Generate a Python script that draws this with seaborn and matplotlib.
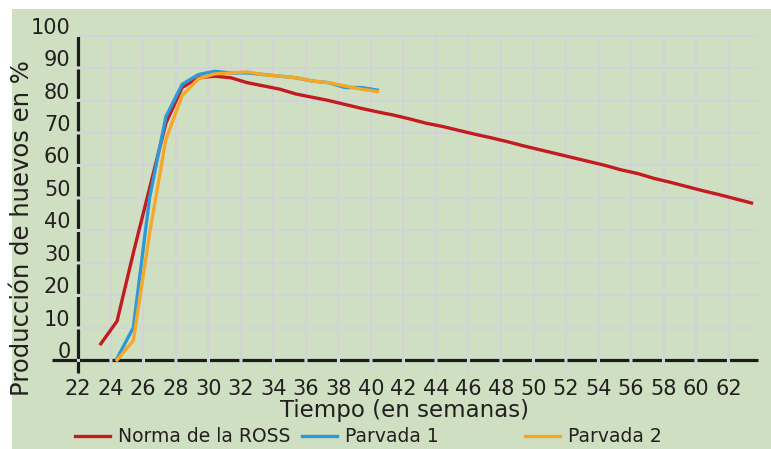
import numpy as np
import pandas as pd
import seaborn as sns
import matplotlib.pyplot as plt
from matplotlib.patches import Rectangle
from matplotlib.transforms import ScaledTranslation

# semanas de vida (los puntos caen un poco despues de cada marca del eje)
semanas_ross = np.arange(23.4, 63.5, 1.0)
semanas_parvada = np.arange(24.4, 40.5, 1.0)

# produccion de huevos en %
norma_ross = [5, 12, 33, 53, 73, 84, 87, 87.5, 87, 85.5,
              84.5, 83.5, 82, 81, 80, 78.8, 77.6, 76.5, 75.5, 74.3,
              73, 72, 70.8, 69.6, 68.5, 67.3, 66, 64.8, 63.6, 62.4,
              61.2, 60, 58.6, 57.5, 56, 54.8, 53.5, 52.2, 51, 49.7, 48.4]
parvada_1 = [0.5, 10, 50, 75, 85, 88, 89, 88.5, 88.5, 88,
             87.5, 87, 86, 85.5, 84, 84, 83.2]
parvada_2 = [0, 6, 39, 68, 81.5, 86.7, 88.2, 88.5, 88.8, 88,
             87.5, 87, 86, 85.5, 84.5, 83.5, 82.8]

series = ['Norma de la ROSS', 'Parvada 1', 'Parvada 2']
colores = ['#c41b20', '#2b9ad6', '#f5a72a']

y_ticks = list(range(0, 101, 10))
x_ticks = list(range(22, 63, 2))

df = pd.concat([
    pd.DataFrame({'semana': semanas_ross, 'valor': norma_ross, 'serie': series[0]}),
    pd.DataFrame({'semana': semanas_parvada, 'valor': parvada_1, 'serie': series[1]}),
    pd.DataFrame({'semana': semanas_parvada, 'valor': parvada_2, 'serie': series[2]}),
])

plt.rcParams['lines.scale_dashes'] = False
plt.rcParams['font.family'] = ['DejaVu Sans']
texto = '#231f20'
verde = '#cfe0c2'
rejilla = '#d5d1dc'

fig = plt.figure(figsize=(7.71, 4.49), dpi=100)
fig.patch.set_facecolor('white')
fig.patches.append(Rectangle((12 / 771, 0), 1, 1 - 9 / 449, transform=fig.transFigure,
                             facecolor=verde, edgecolor='none', zorder=-5))

ax = fig.add_axes([52 / 771, 1 - 373 / 449, 706 / 771, 339 / 449])
ax.set_zorder(2)
ax.set_facecolor('none')
ax.set_xlim(20.4, 63.8)
ax.set_ylim(-4, 100.5)

# rejilla
ax.vlines(x_ticks[1:], -3.5, 100, color=rejilla, lw=1.3, zorder=1)
ax.hlines(y_ticks[1:], 22, 63.8, color=rejilla, lw=1.3, zorder=1)

sns.lineplot(data=df, x='semana', y='valor', hue='serie', hue_order=series,
             palette=colores, linewidth=2.4, legend=False, ax=ax, zorder=3)

# ejes cruzados y "cortados" en cada linea de la rejilla
for s in ['top', 'right']:
    ax.spines[s].set_visible(False)
ax.spines['left'].set_position(('data', 22))
ax.spines['bottom'].set_position(('data', 0))
ax.spines['left'].set_linestyle((12.9, (21.2, 2.2)))
ax.spines['bottom'].set_linestyle((3.6, (21.2, 2.2)))
for s in ['left', 'bottom']:
    ax.spines[s].set_linewidth(2.3)
    ax.spines[s].set_color('#1c1c1c')
    ax.spines[s].set_capstyle('butt')
    ax.spines[s].set_zorder(2)

ax.set_xticks(x_ticks)
ax.set_yticks(y_ticks)
ax.tick_params(axis='both', length=0, labelsize=15, colors=texto)
ax.tick_params(axis='y', pad=5.5)
ax.tick_params(axis='x', pad=13.5)
subir = ScaledTranslation(0, 10 / 100, fig.dpi_scale_trans)
for lab in ax.get_yticklabels():
    lab.set_transform(lab.get_transform() + subir)

ax.set_xlabel('Tiempo (en semanas)', fontsize=16.5, color=texto)
ax.xaxis.label.set_va('center')
ax.xaxis.set_label_coords(0.5, (373 - 410) / 339)
ax.set_ylabel('Producción de huevos en %', fontsize=17.5, color=texto)
ax.yaxis.label.set_va('center')
ax.yaxis.set_label_coords((22 - 52) / 706, (373 - 228) / 339)

# leyenda: una entrada por posicion
lineas = ax.get_lines()
pos_x = [75, 302, 525]
for linea, nombre, px in zip(lineas, series, pos_x):
    fig.legend([linea], [nombre], loc='center left',
               bbox_to_anchor=(px / 771, 1 - 437 / 449), frameon=False,
               fontsize=13.5, handlelength=1.85, handletextpad=0.45,
               borderpad=0, borderaxespad=0, labelcolor=texto)

fig.savefig('out.png', dpi=100)
